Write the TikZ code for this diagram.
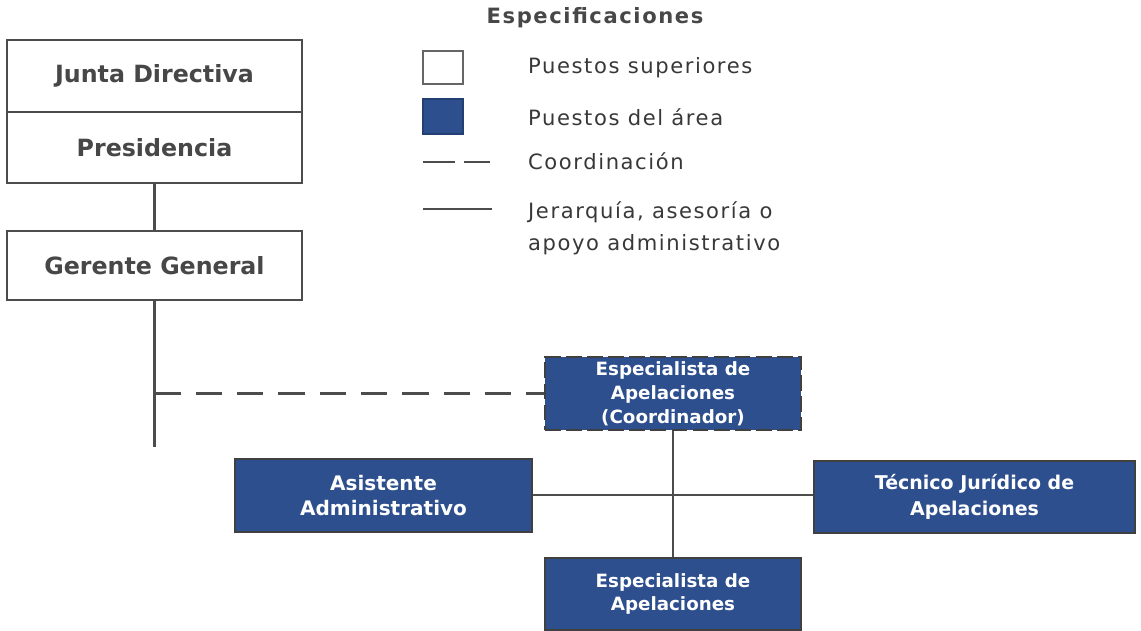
\documentclass[tikz,border=0pt]{standalone}
\usepackage{fontspec}
\setmainfont{DejaVu Sans}
\newfontfamily\spacedfont[LetterSpace=7.5]{DejaVu Sans}
\begin{document}
\begin{tikzpicture}[x=0.02cm,y=-0.02cm,
  txt/.style={font=\spacedfont\fontsize{12}{14}\selectfont, text=black!78},
  topbox/.style={draw=black!70, line width=1.2pt, fill=white, font=\bfseries\fontsize{13.5}{16}\selectfont, text=black!72, inner sep=0pt},
  areabox/.style={draw=black!75, line width=1.2pt, fill=areablue, font=\bfseries\fontsize{10.4}{13.6}\selectfont, text=white, align=center, inner sep=0pt},
  conn/.style={draw=black!70, line width=1.2pt},
  coord/.style={draw=black!70, line width=1.6pt, dash pattern=on 15pt off 8.5pt}]
\definecolor{areablue}{HTML}{2D4F8E}
\useasboundingbox (0,0) rectangle (1141,631);
% top boxes
\node[topbox, minimum width=5.9cm, minimum height=1.44cm] (junta) at (154.5,76) {Junta Directiva};
\node[topbox, minimum width=5.9cm, minimum height=1.42cm] (pres) at (154.5,147.5) {Presidencia};
\node[topbox, minimum width=5.9cm, minimum height=1.38cm] (ger) at (154.5,265.5) {Gerente General};
% area boxes
\node[areabox, minimum width=5.12cm, minimum height=1.46cm, dash pattern=on 9pt off 3pt] (coordn) at (673,393.5) {Especialista de\\Apelaciones\\(Coordinador)};
\node[areabox, minimum width=5.94cm, minimum height=1.46cm, font=\bfseries\fontsize{11.4}{14.5}\selectfont] (asis) at (383.5,495.5) {Asistente\\Administrativo};
\node[areabox, minimum width=6.42cm, minimum height=1.44cm, font=\bfseries\fontsize{10.8}{14.5}\selectfont] (tec) at (974.5,497) {Técnico Jurídico de\\Apelaciones};
\node[areabox, minimum width=5.12cm, minimum height=1.44cm] (esp) at (673,594) {Especialista de\\Apelaciones};
% connectors
\coordinate (gend) at (154.5,447);
\coordinate (gdash) at (154.5,393.5);
\coordinate (hub) at (673,495);
\draw[conn] (pres.south) -- (ger.north);
\draw[conn] (ger.south) -- (gend);
\draw[coord] (gdash) -- (coordn.west);
\draw[conn] (coordn.south) -- (esp.north);
\draw[conn] (asis.east |- hub) -- (tec.west |- hub);
% legend
\node[font=\spacedfont\bfseries\fontsize{12}{14}\selectfont, text=black!72] (ltitle) at (595,18) {Especificaciones};
\node[draw=black!60, line width=0.8pt, fill=white, minimum width=0.8cm, minimum height=0.66cm, inner sep=0pt] (lsq1) at (443,67.5) {};
\node[fill=areablue, draw=areablue!80!black, line width=0.6pt, minimum width=0.8cm, minimum height=0.7cm, inner sep=0pt] (lsq2) at (443,116.5) {};
\coordinate (ld1) at (423,162);
\coordinate (ld2) at (490,162);
\coordinate (ls1) at (423,209);
\coordinate (ls2) at (492,209);
\draw[draw=black!70, line width=1.6pt, dash pattern=on 18pt off 5.5pt] (ld1) -- (ld2);
\draw[conn] (ls1) -- (ls2);
\node[txt, anchor=west] (l1) at (522,68) {Puestos superiores};
\node[txt, anchor=west] (l2) at (522,117) {Puestos del área};
\node[txt, anchor=west] (l3) at (522,161) {Coordinación};
\node[txt, anchor=north west, align=left, font=\spacedfont\fontsize{12}{18.7}\selectfont] (l4) at (522,195) {Jerarquía, asesoría o\\apoyo administrativo};
\end{tikzpicture}
\end{document}
